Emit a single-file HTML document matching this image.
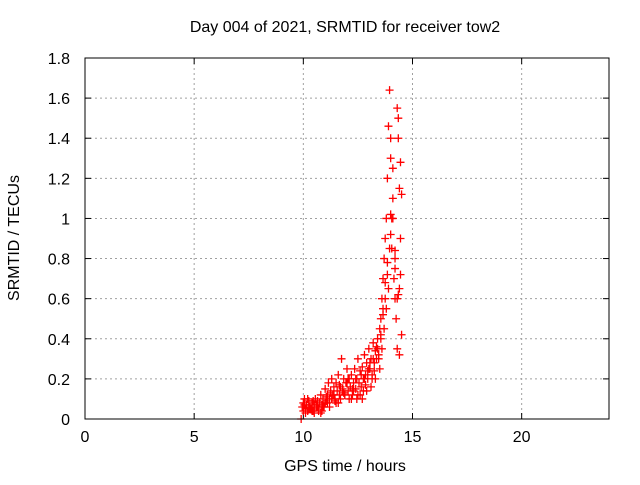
<!DOCTYPE html>
<html><head><meta charset="utf-8"><style>
body{margin:0;background:#fff}
svg{font-family:"Liberation Sans",sans-serif;font-size:16px}
</style></head><body>
<svg id="c" width="640" height="480">
<text x="345" y="32" text-anchor="middle">Day 004 of 2021, SRMTID for receiver tow2</text>
<text x="345" y="471" text-anchor="middle">GPS time / hours</text>
<text transform="translate(19,238) rotate(-90)" text-anchor="middle">SRMTID / TECUs</text>
<g id="grid"></g><g id="pts"></g>
<rect x="85" y="58" width="524" height="361" fill="none" stroke="#000"/>
</svg>
<script>
const xTicks=[0,5,10,15,20];
const yTicks=[0,0.2,0.4,0.6,0.8,1,1.2,1.4,1.6,1.8];
const yLabels=["0","0.2","0.4","0.6","0.8","1","1.2","1.4","1.6","1.8"];
const times=[9.9,9.95,10.0,10.05,10.1,10.15,10.2,10.25,10.3,10.35,10.4,10.45,10.5,10.55,10.6,10.65,10.7,10.75,10.8,10.85,10.9,10.95,11.0,11.05,11.1,11.15,11.2,11.25,11.3,11.35,11.4,11.45,11.5,11.55,11.6,11.65,11.7,11.75,11.8,11.85,11.9,11.95,12.0,12.05,12.1,12.15,12.2,12.25,12.3,12.35,12.4,12.45,12.5,12.55,12.6,12.65,12.7,12.75,12.8,12.85,12.9,12.95,13.0,13.05,13.1,13.15,13.2,13.25,13.3,13.35,13.4,13.45,13.5,13.55,13.6,13.65,13.7,13.75,13.8,13.85,13.9,13.95,14.0,14.05,14.1,14.15,14.2,14.25,14.3,14.35,14.4,14.45,14.5,
10.0,10.1,10.3,10.5,10.7,10.9,11.1,11.3,11.5,11.7,11.9,12.1,12.3,12.5,12.7,12.9,13.1,13.3,13.5,13.6,13.7,13.8,13.9,14.0,14.05,14.1,14.2,14.3,14.35,14.4,14.45,14.5,
10.2,10.4,10.6,10.8,11.0,11.2,11.4,11.6,11.8,12.0,12.2,12.4,12.6,12.8,13.0,13.2,13.4,13.55,13.65,13.75,13.85,13.95,14.0,14.1,14.2,14.3,14.4,14.45,
10.05,10.25,10.45,10.65,10.85,11.05,11.25,11.45,11.65,11.85,12.05,12.25,12.45,12.65,12.85,13.05,13.25,13.45,13.35,13.15,12.95,12.75,13.55,13.65,13.75,13.85,14.0,14.2,14.35];
const values=[0.0,0.06,0.08,0.1,0.05,0.07,0.04,0.09,0.06,0.05,0.08,0.04,0.07,0.1,0.06,0.09,0.05,0.08,0.12,0.07,0.1,0.06,0.15,0.09,0.12,0.18,0.1,0.14,0.2,0.12,0.16,0.1,0.18,0.14,0.22,0.12,0.16,0.3,0.15,0.2,0.12,0.18,0.25,0.14,0.2,0.16,0.22,0.12,0.18,0.25,0.15,0.2,0.3,0.18,0.24,0.16,0.26,0.2,0.32,0.22,0.28,0.2,0.35,0.25,0.3,0.22,0.38,0.28,0.34,0.3,0.4,0.32,0.45,0.5,0.6,0.7,0.8,0.9,1.0,1.2,1.46,1.64,1.3,0.85,1.1,0.7,0.6,0.5,1.55,1.4,1.15,0.72,0.42,
0.04,0.03,0.05,0.03,0.04,0.06,0.08,0.1,0.08,0.1,0.12,0.1,0.14,0.12,0.1,0.14,0.16,0.2,0.25,0.35,0.45,0.55,0.65,0.92,1.0,1.25,0.8,0.35,1.5,0.65,1.28,1.12,
0.1,0.04,0.07,0.03,0.08,0.06,0.12,0.08,0.14,0.18,0.1,0.2,0.12,0.2,0.25,0.3,0.35,0.42,0.55,0.68,0.78,0.85,1.4,1.0,0.75,0.6,0.32,0.9,
0.07,0.05,0.09,0.06,0.04,0.11,0.13,0.09,0.17,0.13,0.2,0.15,0.1,0.22,0.17,0.28,0.24,0.3,0.36,0.2,0.24,0.14,0.4,0.52,0.6,0.72,1.02,0.84,0.62];
const X=t=>85+t*524/24, Y=v=>419-v*361/1.8;
const NS="http://www.w3.org/2000/svg", g=document.getElementById('grid'), p=document.getElementById('pts');
function mk(par,tag,a){const e=document.createElementNS(NS,tag);for(const k in a)e.setAttribute(k,a[k]);par.appendChild(e);return e;}
xTicks.forEach(t=>{
 if(t>0){const l=mk(g,'line',{x1:X(t),x2:X(t),y1:58,y2:419,stroke:'#a0a0a0','stroke-dasharray':'2,3'});
 
 }
 mk(g,'line',{x1:X(t),x2:X(t),y1:419,y2:413,stroke:'#000'});
 mk(g,'line',{x1:X(t),x2:X(t),y1:58,y2:64,stroke:'#000'});
 const tx=mk(g,'text',{x:X(t),y:442,'text-anchor':'middle'});tx.textContent=t;
 
 
});
yTicks.forEach((v,i)=>{
 if(v>0&&v<1.8){const l=mk(g,'line',{x1:85,x2:609,y1:Y(v),y2:Y(v),stroke:'#a0a0a0','stroke-dasharray':'2,3'});
 
 }
 mk(g,'line',{x1:85,x2:91,y1:Y(v),y2:Y(v),stroke:'#000'});
 mk(g,'line',{x1:603,x2:609,y1:Y(v),y2:Y(v),stroke:'#000'});
 const tx=mk(g,'text',{x:70,y:Y(v)+6,'text-anchor':'end'});tx.textContent=yLabels[i];
 
 
});
times.forEach((t,i)=>{
 const x=X(t),y=Y(values[i]);
 const e=mk(p,'path',{d:`M${x-4},${y}h8M${x},${y-4}v8`,stroke:'#f00','stroke-width':1.3});
 
 
});
</script>
</body></html>
